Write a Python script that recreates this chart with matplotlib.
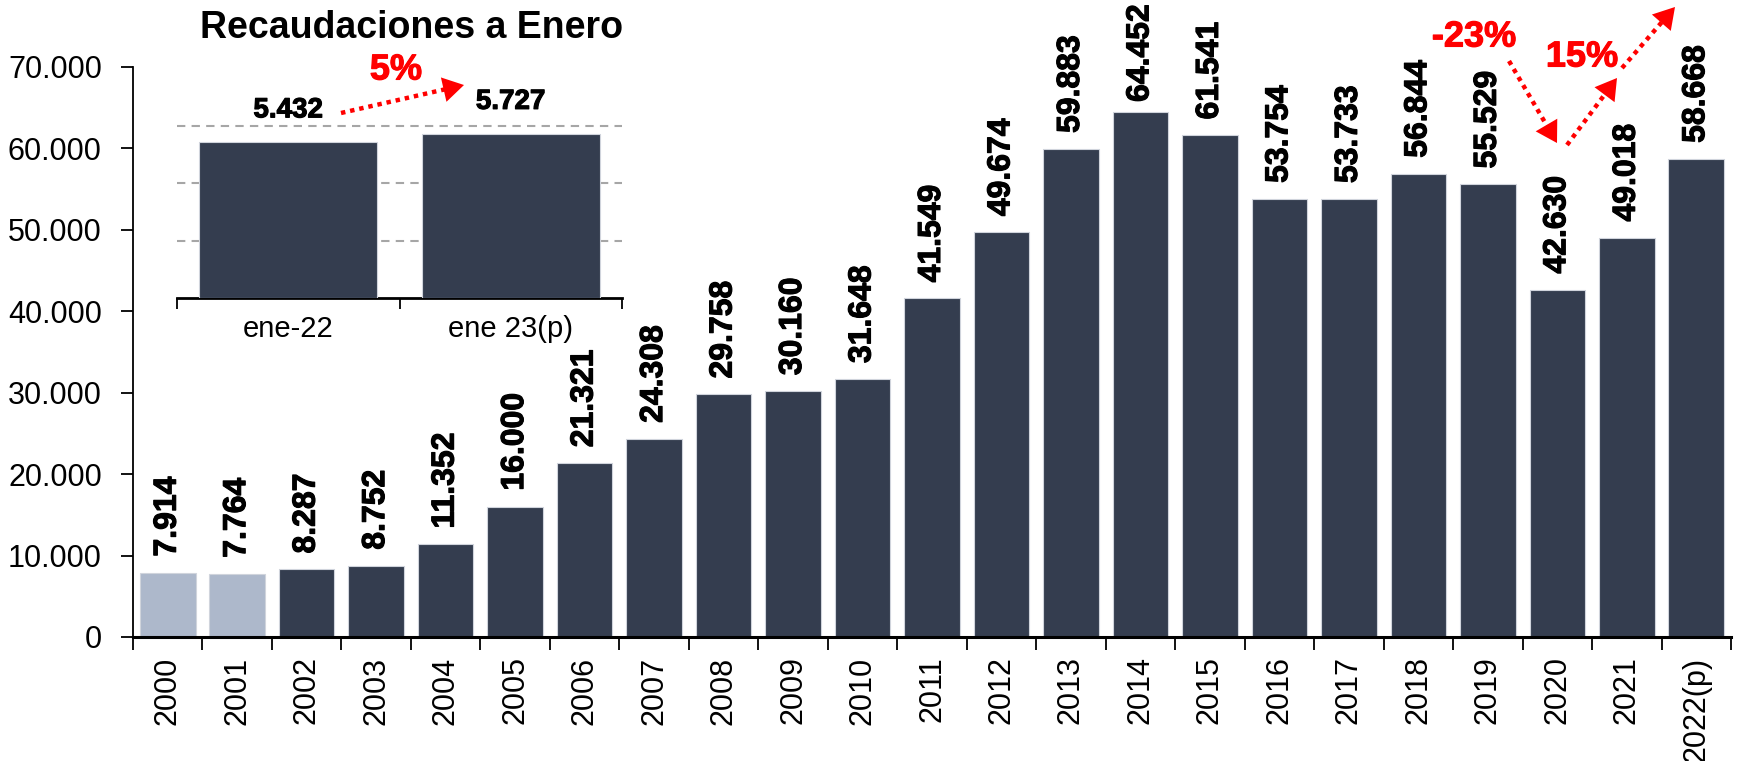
import matplotlib
matplotlib.use("Agg")
import matplotlib.pyplot as plt
from matplotlib.lines import Line2D
from matplotlib.patches import FancyArrowPatch
from matplotlib.ticker import FuncFormatter, FixedLocator
import matplotlib.patheffects as pe

plt.rcParams['font.family'] = ['Liberation Sans', 'DejaVu Sans']

# ---- data ----
years = ["2000", "2001", "2002", "2003", "2004", "2005", "2006", "2007", "2008",
         "2009", "2010", "2011", "2012", "2013", "2014", "2015", "2016", "2017",
         "2018", "2019", "2020", "2021", "2022(p)"]
values = [7914, 7764, 8287, 8752, 11352, 16000, 21321, 24308, 29758, 30160,
          31648, 41549, 49674, 59883, 64452, 61541, 53754, 53733, 56844, 55529,
          42630, 49018, 58668]
light_years = ["2000", "2001"]

inset_labels = ["ene-22", "ene 23(p)"]
inset_values = [5432, 5727]
inset_title = "Recaudaciones a Enero"
pct_inset = "5%"
pct_drop = "-23%"
pct_rise = "15%"

DARK = "#343D4F"
LIGHT = "#ADB8CB"
RED = "#FF0000"

def fmt(v):
    return f"{int(v):,}".replace(",", ".")

W, H = 1738, 761
fig = plt.figure(figsize=(W / 100, H / 100), dpi=100)
fig.patch.set_facecolor("white")

bold_fx = [pe.withStroke(linewidth=0.8, foreground="black")]
red_fx = [pe.withStroke(linewidth=0.8, foreground=RED)]

# ---- main axes ----
ax = fig.add_axes([133 / W, 1 - 637 / H, 1598 / W, 570.5 / H])
x = list(range(len(years)))
colors = [LIGHT if y in light_years else DARK for y in years]
ax.bar(x, values, width=0.8, color=colors, edgecolor="#D0D4DC", linewidth=0.8)
ax.set_xlim(-0.5, len(years) - 0.5)
ax.set_ylim(0, 70000)
ax.yaxis.set_major_locator(FixedLocator(range(0, 70001, 10000)))
ax.yaxis.set_major_formatter(FuncFormatter(lambda v, p: fmt(v)))
ax.tick_params(axis="y", labelsize=22, length=9, width=1.3, pad=13.5, direction="out")
ax.set_xticks(x)
ax.set_xticklabels(years, rotation=90, fontsize=22)
ax.tick_params(axis="x", which="major", length=0, pad=14)
ax.set_xticks([i - 0.5 for i in range(len(years) + 1)], minor=True)
ax.tick_params(axis="x", which="minor", length=9, width=1.3, direction="out")
for s in ["top", "right"]:
    ax.spines[s].set_visible(False)
ax.spines["left"].set_linewidth(1.3)
ax.spines["bottom"].set_linewidth(2.2)
ax.set_facecolor("none")

imax = values.index(max(values))
for i, (xi, v) in enumerate(zip(x, values)):
    off = 7 if i == imax else 11.5
    ax.annotate(fmt(v), (xi, v), xytext=(0, off), textcoords="offset points",
                rotation=90, ha="center", va="bottom", fontsize=23,
                fontweight="bold", color="black", annotation_clip=False,
                path_effects=bold_fx)

# ---- inset axes ----
ins = fig.add_axes([177 / W, 1 - 298 / H, 445 / W, 180.8 / H])
ins.set_facecolor("white")
ix = list(range(len(inset_labels)))
ins.bar(ix, inset_values, width=0.8, color=DARK, edgecolor="#D0D4DC", linewidth=0.8, zorder=3)
ins.set_xlim(-0.5, len(inset_labels) - 0.5)
ins.set_ylim(0, 6300)
for g in (2000, 4000, 6000):
    ins.axhline(g, color="#A6A6A6", linestyle=(0, (4, 3)), linewidth=1.5, zorder=1)
ins.set_yticks([])
for s in ["top", "right", "left"]:
    ins.spines[s].set_visible(False)
ins.spines["bottom"].set_linewidth(2.0)
ins.set_xticks(ix)
ins.set_xticklabels(inset_labels, fontsize=21)
ins.tick_params(axis="x", which="major", length=0, pad=12)
ins.set_xticks([i - 0.5 for i in range(len(inset_labels) + 1)], minor=True)
ins.tick_params(axis="x", which="minor", length=8, width=1.3, direction="out")
for xi, v in zip(ix, inset_values):
    ins.annotate(fmt(v), (xi, v), xytext=(0, 13.5), textcoords="offset points",
                 ha="center", va="bottom", fontsize=20, fontweight="bold",
                 annotation_clip=False, path_effects=bold_fx)

fig.text(412 / W, 1 - 28 / H, inset_title, ha="center", va="center",
         fontsize=27, fontweight="bold")

# ---- red annotations (figure pixel coordinates, y from top) ----
def dotted_arrow(x0, y0, x1, y1):
    X0, Y0, X1, Y1 = x0, H - y0, x1, H - y1
    dx, dy = X1 - X0, Y1 - Y0
    L = (dx * dx + dy * dy) ** 0.5
    ux, uy = dx / L, dy / L
    hl = 14
    fig.add_artist(Line2D([X0, X1 - ux * hl], [Y0, Y1 - uy * hl], transform=None,
                          color=RED, linewidth=3.2, linestyle=(0, (1, 1.1)),
                          solid_capstyle="butt", dash_capstyle="butt"))
    fig.add_artist(FancyArrowPatch(
        (X1 - ux * hl, Y1 - uy * hl), (X1, Y1), transform=None,
        arrowstyle="-|>,head_length=0.75,head_width=0.45", mutation_scale=20,
        color=RED, linewidth=0, shrinkA=0, shrinkB=0))

fig.text(396 / W, 1 - 70 / H, pct_inset, ha="center", va="center", fontsize=26,
         fontweight="bold", color=RED, path_effects=red_fx)
dotted_arrow(341, 113, 464, 85)

fig.text(1474 / W, 1 - 37 / H, pct_drop, ha="center", va="center", fontsize=26,
         fontweight="bold", color=RED, path_effects=red_fx)
dotted_arrow(1509, 61, 1557, 143)

fig.text(1582 / W, 1 - 57 / H, pct_rise, ha="center", va="center", fontsize=26,
         fontweight="bold", color=RED, path_effects=red_fx)
dotted_arrow(1567, 145, 1617, 78)
dotted_arrow(1622, 68, 1675, 7)

fig.savefig("out.png", dpi=100, facecolor="white")
